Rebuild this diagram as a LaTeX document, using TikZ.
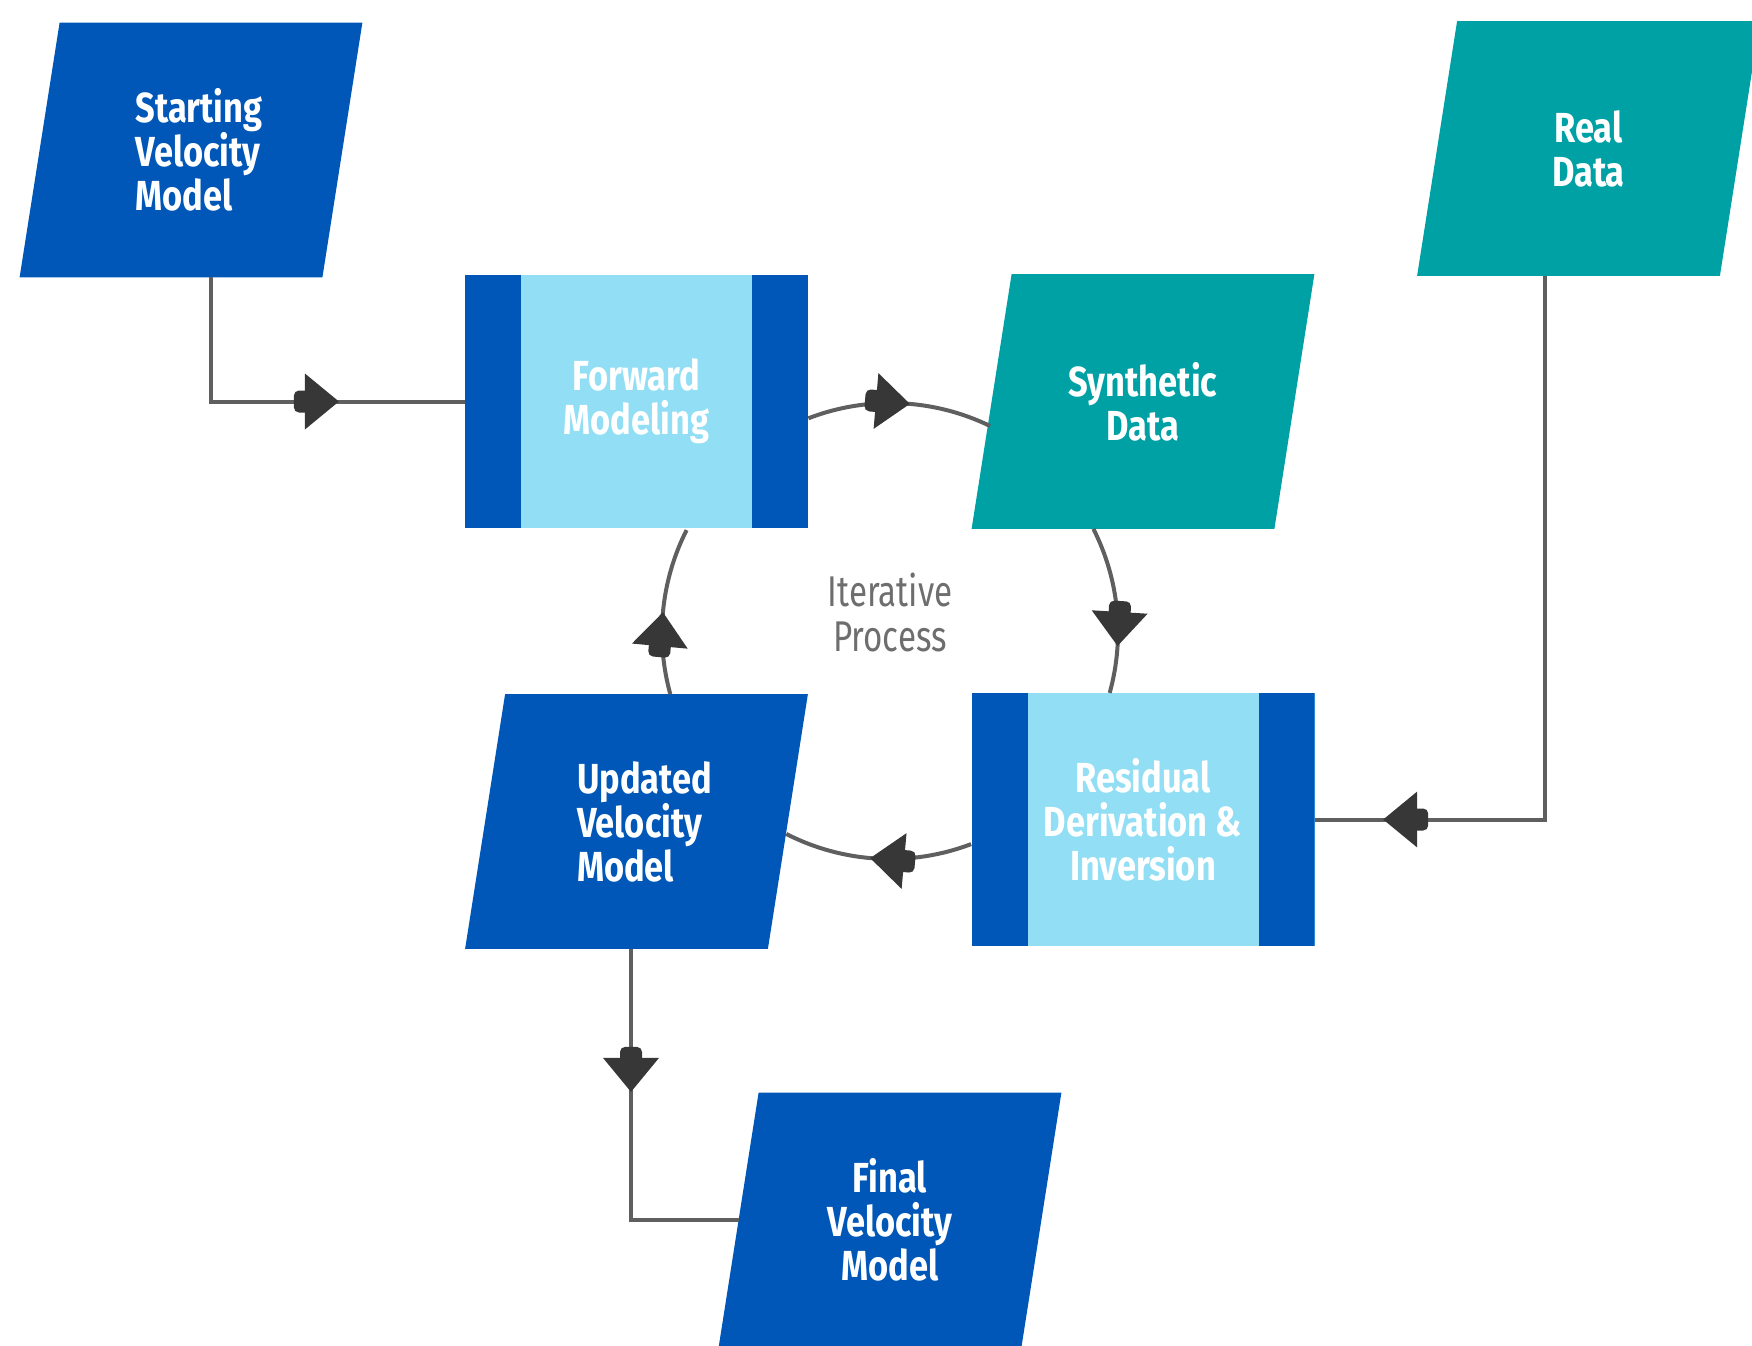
\documentclass[tikz,border=0pt]{standalone}
\usepackage{fontspec}
\usetikzlibrary{calc,decorations.markings,backgrounds}
\newfontfamily\boxfont[FakeStretch=0.82]{Fira Sans}
\newfontfamily\iterfont[FakeStretch=0.77]{Fira Sans}
\definecolor{dblue}{RGB}{0,87,184}
\definecolor{teal2}{RGB}{0,161,165}
\definecolor{lblue}{RGB}{146,223,245}
\definecolor{linec}{RGB}{95,95,95}
\definecolor{arrowc}{RGB}{55,55,55}
\definecolor{itergray}{RGB}{110,110,110}
\newcommand\arrowshape{%
  \fill[arrowc] (0pt,0pt) -- (-17pt,14pt) -- (-17pt,-14pt) -- cycle;
  \fill[arrowc,rounded corners=2.5pt] (-14pt,-5.5pt) -- (-22.5pt,-5.5pt) -- (-22.5pt,5.5pt) -- (-14pt,5.5pt) -- cycle;}
% #1 node, #2 colour, #3 horizontal offset of the shape from the node
\newcommand\parafill[3]{%
  \fill[#2] ($(#1.south west)+(-20+#3,0)$) -- ($(#1.south east)+(-20+#3,0)$) --
            ($(#1.north east)+(20+#3,0)$) -- ($(#1.north west)+(20+#3,0)$) -- cycle;}
\tikzset{
  para/.style={minimum width=151pt, minimum height=127pt, inner sep=0pt,
    font=\boxfont\bfseries\fontsize{21pt}{22pt}\selectfont, text=white, align=center},
  procbox/.style={fill=lblue, minimum width=171.5pt, minimum height=126.5pt, inner sep=0pt,
    font=\boxfont\bfseries\fontsize{21pt}{22pt}\selectfont, text=white, align=center,
    path picture={
      \fill[dblue] (path picture bounding box.south west) rectangle ($(path picture bounding box.north west)+(56,0)$);
      \fill[dblue] (path picture bounding box.south east) rectangle ($(path picture bounding box.north east)+(-56,0)$);}},
  iterstyle/.style={font=\iterfont\fontsize{21.5pt}{22.5pt}\selectfont, text=itergray, align=center, inner sep=0pt},
  conn/.style={draw=linec, line width=2pt},
  arrowat/.style={postaction={decorate}, decoration={markings, mark=at position #1 with {\arrowshape}}},
}
\begin{document}
\begin{tikzpicture}[x=0.5pt,y=0.5pt]
\useasboundingbox (0,0) rectangle (1752,-1345);
\clip (0,0) rectangle (1752,-1345);

\node[para, align=left] (svm) at (199,-150) {Starting\\Velocity\\Model};
\node[para] (rd) at (1588.5,-148.5) {Real\\Data};
\node[para] (sd) at (1143,-401.5) {Synthetic\\Data};
\node[para, align=left] (uvm) at (644.5,-821.5) {Updated\\Velocity\\Model};
\node[para] (fvm) at (890,-1220) {Final\\Velocity\\Model};
\node[procbox] (fm) at (636.5,-401.5) {Forward\\Modeling};
\node[procbox] (rdi) at (1143,-819.5) {Residual\\Derivation \&\\Inversion};
\node[iterstyle] (iter) at (890,-612) {Iterative\\Process};

\begin{scope}[on background layer]
  \parafill{svm}{dblue}{-8}
  \parafill{rd}{teal2}{0}
  \parafill{sd}{teal2}{0}
  \parafill{uvm}{dblue}{-8}
  \parafill{fvm}{dblue}{0}
\end{scope}

\draw[conn, arrowat=126pt] ($(svm.south)+(12,0)$) |- (fm.west);
\draw[conn, arrowat=352.7pt] ($(rd.south)+(-43.5,0)$) |- (rdi.east);
\draw[conn, arrowat=71.5pt] ($(uvm.south)+(-13.5,0)$) |- (fvm.west);

\draw[conn, arrowat=0.553] ($(fm.east)+(0,-16.8)$) arc[start angle=111.08, end angle=64.1, radius=228];
\draw[conn, arrowat=0.717] ($(sd.south)+(-49.6,0)$) arc[start angle=26.86, end angle=-15.52, radius=228];
\draw[conn, arrowat=0.539] ($(rdi.west)+(0,-24.6)$) arc[start angle=-69.2, end angle=-117.1, radius=228];
\draw[conn, arrowat=0.49] ($(uvm.north)+(25.8,0)$) arc[start angle=195.52, end angle=153.14, radius=228];
\end{tikzpicture}
\end{document}
